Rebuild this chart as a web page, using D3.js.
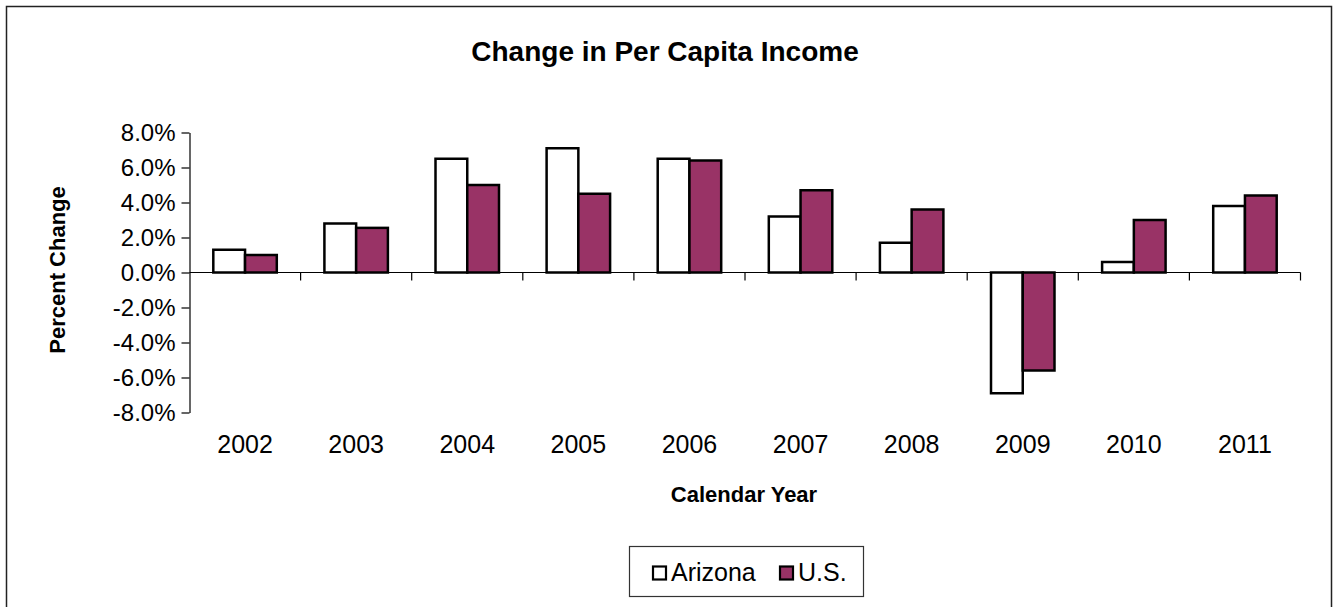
<!DOCTYPE html>
<html>
<head>
<meta charset="utf-8">
<script src="https://cdn.jsdelivr.net/npm/d3@7"></script>
<style>
  html, body { margin: 0; padding: 0; background: #fff; }
  svg { display: block; font-family: "Liberation Sans", Arial, sans-serif; }
</style>
</head>
<body>
<svg id="chart" width="1333" height="607"></svg>
<script>
// Annual percent change in per capita income
const years = ["2002","2003","2004","2005","2006","2007","2008","2009","2010","2011"];
const arizona = [1.3, 2.8, 6.5, 7.1, 6.5, 3.2, 1.7, -6.9, 0.6, 3.8];
const us = [1.0, 2.55, 5.0, 4.5, 6.4, 4.7, 3.6, -5.6, 3.0, 4.4];
const seriesNames = ["Arizona", "U.S."];
const seriesColors = ["#ffffff", "#993366"];
const yTicks = [-8, -6, -4, -2, 0, 2, 4, 6, 8];

const svg = d3.select("#chart");
const W = 1333, H = 607;

// outer chart frame (bottom edge runs off the canvas)
svg.append("path")
  .attr("d", `M6.5,${H} V6.5 H1331.5 V${H}`)
  .attr("fill", "none").attr("stroke", "#222").attr("stroke-width", 1.5);

const plot = { left: 189.5, right: 1300.5, top: 132.5, bottom: 412.5 };

const y = d3.scaleLinear().domain([-8, 8]).range([plot.bottom, plot.top]);
const x = d3.scaleBand().domain(years).range([plot.left, plot.right]).padding(0);
const step = x.bandwidth();
const barW = step / 3.5;
const xs = d3.scaleBand().domain(seriesNames)
  .range([step * 0.75 / 3.5, step * 0.75 / 3.5 + 2 * barW]).padding(0);

// percent labels with a plain hyphen for negatives
const pct = d => (d < 0 ? "-" : "") + Math.abs(d).toFixed(1) + "%";

// title
svg.append("text")
  .attr("x", 665).attr("y", 61)
  .attr("text-anchor", "middle")
  .attr("font-size", 28).attr("font-weight", "bold")
  .text("Change in Per Capita Income");

// bars
const data = years.map((yr, i) => ({ year: yr, vals: [arizona[i], us[i]] }));
const groups = svg.append("g").selectAll("g").data(data).join("g")
  .attr("transform", d => `translate(${x(d.year)},0)`);
groups.selectAll("rect")
  .data(d => d.vals.map((v, j) => ({ v, name: seriesNames[j], color: seriesColors[j] })))
  .join("rect")
  .attr("x", d => xs(d.name))
  .attr("width", xs.bandwidth())
  .attr("y", d => y(Math.max(0, d.v)))
  .attr("height", d => Math.abs(y(d.v) - y(0)))
  .attr("fill", d => d.color)
  .attr("stroke", "#000").attr("stroke-width", 2.5);

// y axis
const yAxis = d3.axisLeft(y).tickValues(yTicks)
  .tickFormat(pct)
  .tickSize(8).tickSizeOuter(0).tickPadding(6);
const gy = svg.append("g").attr("transform", `translate(${plot.left},0)`).call(yAxis);
gy.selectAll("text").attr("font-size", 24).attr("font-family", "Liberation Sans, Arial, sans-serif").attr("fill", "#000");
gy.selectAll("line, path").attr("stroke", "#000").attr("stroke-width", 1.2);

// x axis along zero line with ticks on category boundaries
const gx = svg.append("g");
gx.append("line")
  .attr("x1", plot.left).attr("x2", plot.right)
  .attr("y1", y(0)).attr("y2", y(0))
  .attr("stroke", "#000").attr("stroke-width", 1.2);
const bounds = years.map(yr => x(yr)).concat([x(years[years.length - 1]) + step]);
gx.selectAll("line.tick").data(bounds.slice(1)).join("line")
  .attr("class", "tick")
  .attr("x1", d => d).attr("x2", d => d)
  .attr("y1", y(0)).attr("y2", y(0) + 8)
  .attr("stroke", "#000").attr("stroke-width", 1.2);
gx.selectAll("text").data(years).join("text")
  .attr("x", d => x(d) + step / 2)
  .attr("y", 453)
  .attr("text-anchor", "middle")
  .attr("font-size", 25)
  .text(d => d);

// axis titles
svg.append("text")
  .attr("x", 744).attr("y", 502)
  .attr("text-anchor", "middle")
  .attr("font-size", 22).attr("font-weight", "bold")
  .text("Calendar Year");
svg.append("text")
  .attr("transform", "translate(65,270) rotate(-90)")
  .attr("text-anchor", "middle")
  .attr("font-size", 22).attr("font-weight", "bold")
  .text("Percent Change");

// legend
const lg = svg.append("g");
lg.append("rect")
  .attr("x", 629.5).attr("y", 546.5).attr("width", 234).attr("height", 50)
  .attr("fill", "#fff").attr("stroke", "#333").attr("stroke-width", 1.2);
const legendItems = [
  { name: seriesNames[0], color: seriesColors[0], sx: 653, tx: 671 },
  { name: seriesNames[1], color: seriesColors[1], sx: 780, tx: 798 }
];
legendItems.forEach(it => {
  lg.append("rect")
    .attr("x", it.sx).attr("y", 566.5).attr("width", 13).attr("height", 13)
    .attr("fill", it.color).attr("stroke", "#000").attr("stroke-width", 2.2);
  lg.append("text")
    .attr("x", it.tx).attr("y", 581)
    .attr("font-size", 25)
    .text(it.name);
});
</script>
</body>
</html>
